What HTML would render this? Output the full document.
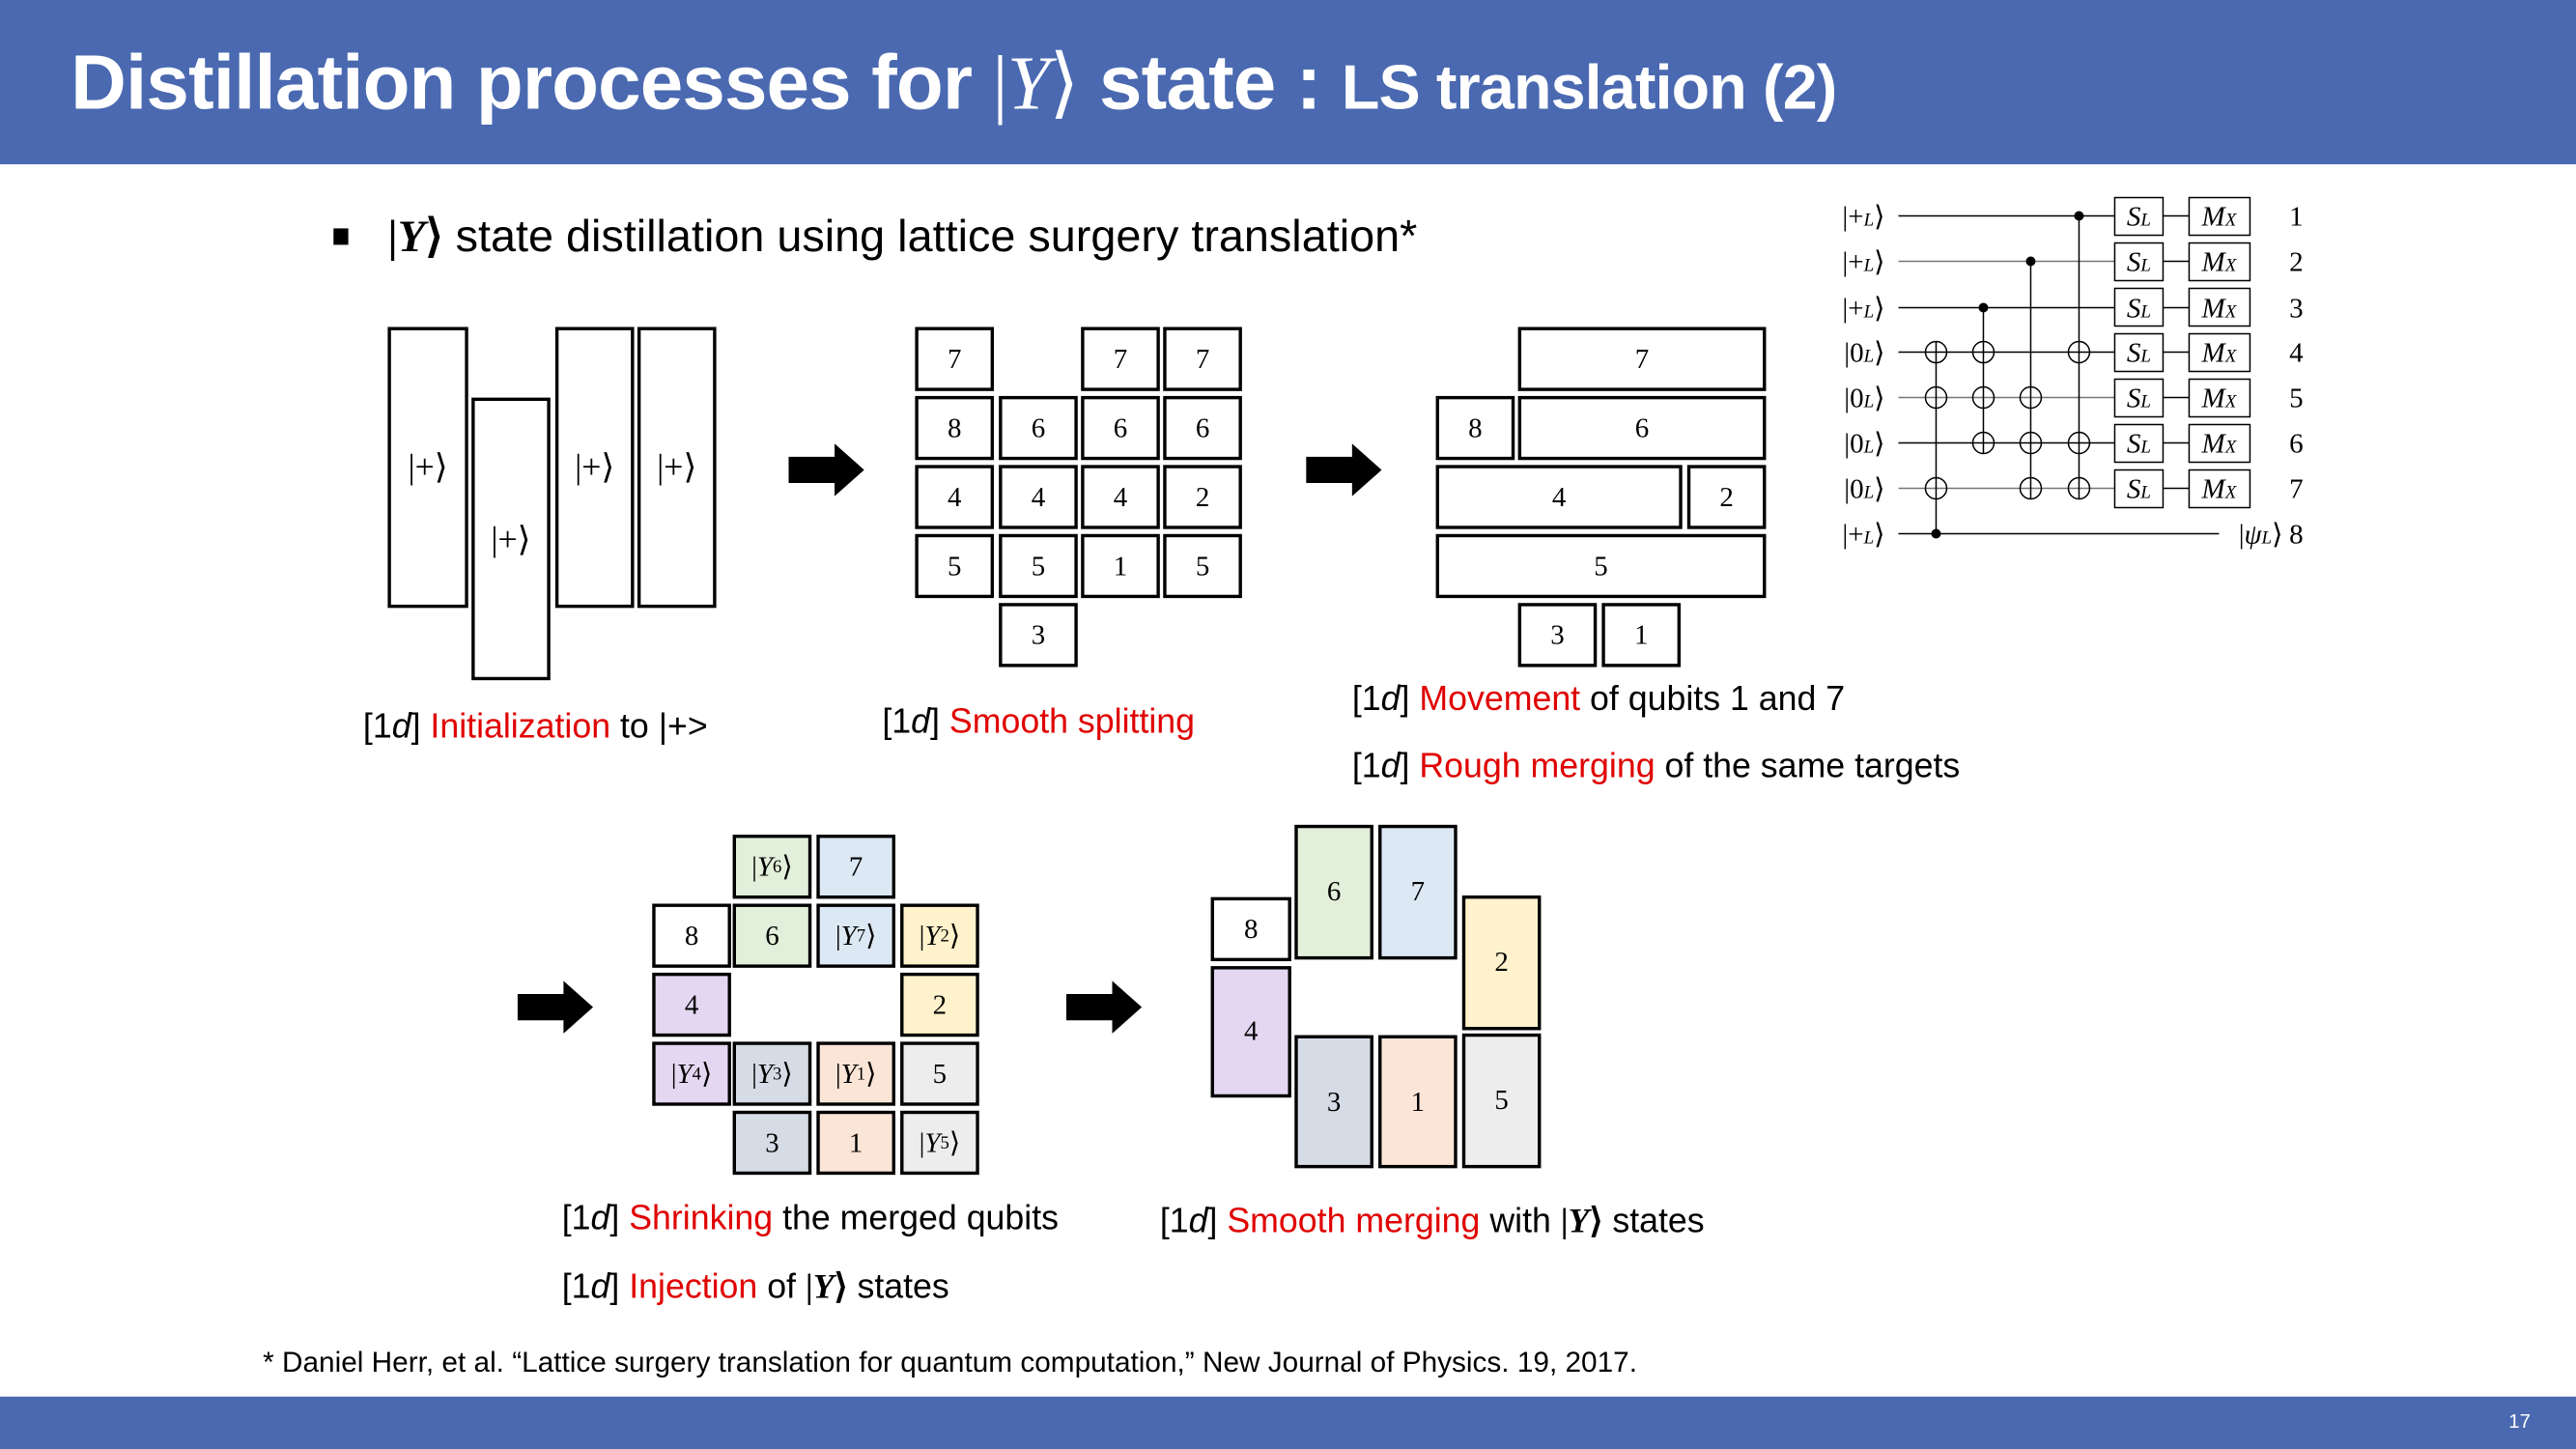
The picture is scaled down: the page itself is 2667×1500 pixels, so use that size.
<!DOCTYPE html>
<html><head><meta charset="utf-8"><style>
html,body{margin:0;padding:0;background:#fff;overflow:hidden}
#wrap{position:absolute;left:0;top:0;width:1568px;height:882px;transform:scale(1.70089);transform-origin:0 0;font-family:"Liberation Sans",sans-serif;color:#000}
.a{position:absolute}
.b{position:absolute;box-sizing:border-box;border:2px solid #000;display:flex;align-items:center;justify-content:center;font-family:"Liberation Serif",serif;font-size:17px;background:#fff}
.t{position:absolute;white-space:nowrap;font-size:21px;line-height:24px}
.r{color:#e00000}
.m{font-family:"Liberation Serif",serif}
.arrow{position:absolute;width:46px;height:32px}
.g{background:#e2efda}.bl{background:#dde8f5}.y{background:#fff2cc}.p{background:#e4d7f2}.gb{background:#d6dce5}.pe{background:#fbe5d6}.gr{background:#ededed}
</style></head><body><div id="wrap">
<div class="a" style="left:0;top:0;width:1568px;height:100px;background:#4a69b0"></div>
<div class="a" style="left:0;top:850px;width:1568px;height:32px;background:#4a69b0"></div>
<div class="a" style="left:1527px;top:858px;color:#fff;font-size:12px">17</div>
<div class="t" style="left:43px;top:22px;font-size:47px;line-height:56px;font-weight:bold;color:#fff;letter-spacing:-0.5px">Distillation processes for <span class="m" style="font-weight:normal">|<i>Y</i>⟩</span> state : <span style="font-size:38px">LS translation (2)</span></div>

<div class="a" style="left:203px;top:139px;width:9px;height:10px;background:#000"></div>
<div class="t" style="left:236px;top:128px;font-size:27.5px;line-height:32px"><span class="m"><b>|<i>Y</i>⟩</b></span> state distillation using lattice surgery translation*</div>

<!-- diagram 1 -->
<div class="b" style="left:236px;top:199px;width:49px;height:171px;font-size:21px">|+⟩</div>
<div class="b" style="left:287px;top:242px;width:48px;height:172px;font-size:21px">|+⟩</div>
<div class="b" style="left:338px;top:199px;width:48px;height:171px;font-size:21px">|+⟩</div>
<div class="b" style="left:388px;top:199px;width:48px;height:171px;font-size:21px">|+⟩</div>

<svg class="arrow" style="left:480px;top:270px" viewBox="0 0 46 32"><polygon points="0,8 28,8 28,0 46,16 28,32 28,24 0,24" fill="#000"/></svg>
<svg class="arrow" style="left:795px;top:270px" viewBox="0 0 46 32"><polygon points="0,8 28,8 28,0 46,16 28,32 28,24 0,24" fill="#000"/></svg>
<svg class="arrow" style="left:315px;top:597px" viewBox="0 0 46 32"><polygon points="0,8 28,8 28,0 46,16 28,32 28,24 0,24" fill="#000"/></svg>
<svg class="arrow" style="left:649px;top:597px" viewBox="0 0 46 32"><polygon points="0,8 28,8 28,0 46,16 28,32 28,24 0,24" fill="#000"/></svg>

<!-- diagram 2 -->
<div class="b" style="left:557px;top:199px;width:48px;height:39px">7</div>
<div class="b" style="left:658px;top:199px;width:48px;height:39px">7</div>
<div class="b" style="left:708px;top:199px;width:48px;height:39px">7</div>
<div class="b" style="left:557px;top:241px;width:48px;height:39px">8</div>
<div class="b" style="left:608px;top:241px;width:48px;height:39px">6</div>
<div class="b" style="left:658px;top:241px;width:48px;height:39px">6</div>
<div class="b" style="left:708px;top:241px;width:48px;height:39px">6</div>
<div class="b" style="left:557px;top:283px;width:48px;height:39px">4</div>
<div class="b" style="left:608px;top:283px;width:48px;height:39px">4</div>
<div class="b" style="left:658px;top:283px;width:48px;height:39px">4</div>
<div class="b" style="left:708px;top:283px;width:48px;height:39px">2</div>
<div class="b" style="left:557px;top:325px;width:48px;height:39px">5</div>
<div class="b" style="left:608px;top:325px;width:48px;height:39px">5</div>
<div class="b" style="left:658px;top:325px;width:48px;height:39px">1</div>
<div class="b" style="left:708px;top:325px;width:48px;height:39px">5</div>
<div class="b" style="left:608px;top:367px;width:48px;height:39px">3</div>

<!-- diagram 3 -->
<div class="b" style="left:924px;top:199px;width:151px;height:39px">7</div>
<div class="b" style="left:874px;top:241px;width:48px;height:39px">8</div>
<div class="b" style="left:924px;top:241px;width:151px;height:39px">6</div>
<div class="b" style="left:874px;top:283px;width:150px;height:39px">4</div>
<div class="b" style="left:1027px;top:283px;width:48px;height:39px">2</div>
<div class="b" style="left:874px;top:325px;width:201px;height:39px">5</div>
<div class="b" style="left:924px;top:367px;width:48px;height:39px">3</div>
<div class="b" style="left:975px;top:367px;width:48px;height:39px">1</div>

<!-- diagram 4 -->
<div class="b g" style="left:446px;top:508px;width:48px;height:39px">|<i>Y</i><sub style="font-size:11px">6</sub>⟩</div>
<div class="b bl" style="left:497px;top:508px;width:48px;height:39px">7</div>
<div class="b" style="left:397px;top:550px;width:48px;height:39px">8</div>
<div class="b g" style="left:446px;top:550px;width:48px;height:39px">6</div>
<div class="b bl" style="left:497px;top:550px;width:48px;height:39px">|<i>Y</i><sub style="font-size:11px">7</sub>⟩</div>
<div class="b y" style="left:548px;top:550px;width:48px;height:39px">|<i>Y</i><sub style="font-size:11px">2</sub>⟩</div>
<div class="b p" style="left:397px;top:592px;width:48px;height:39px">4</div>
<div class="b y" style="left:548px;top:592px;width:48px;height:39px">2</div>
<div class="b p" style="left:397px;top:634px;width:48px;height:39px">|<i>Y</i><sub style="font-size:11px">4</sub>⟩</div>
<div class="b gb" style="left:446px;top:634px;width:48px;height:39px">|<i>Y</i><sub style="font-size:11px">3</sub>⟩</div>
<div class="b pe" style="left:497px;top:634px;width:48px;height:39px">|<i>Y</i><sub style="font-size:11px">1</sub>⟩</div>
<div class="b gr" style="left:548px;top:634px;width:48px;height:39px">5</div>
<div class="b gb" style="left:446px;top:676px;width:48px;height:39px">3</div>
<div class="b pe" style="left:497px;top:676px;width:48px;height:39px">1</div>
<div class="b gr" style="left:548px;top:676px;width:48px;height:39px">|<i>Y</i><sub style="font-size:11px">5</sub>⟩</div>

<!-- diagram 5 -->
<div class="b" style="left:737px;top:546px;width:49px;height:39px">8</div>
<div class="b g" style="left:788px;top:502px;width:48px;height:82px">6</div>
<div class="b bl" style="left:839px;top:502px;width:48px;height:82px">7</div>
<div class="b y" style="left:890px;top:545px;width:48px;height:82px">2</div>
<div class="b p" style="left:737px;top:588px;width:49px;height:80px">4</div>
<div class="b gb" style="left:788px;top:630px;width:48px;height:81px">3</div>
<div class="b pe" style="left:839px;top:630px;width:48px;height:81px">1</div>
<div class="b gr" style="left:890px;top:629px;width:48px;height:82px">5</div>

<!-- captions -->
<div class="t" style="left:221px;top:431px">[1<i>d</i>] <span class="r">Initialization</span> to |+&gt;</div>
<div class="t" style="left:537px;top:428px">[1<i>d</i>] <span class="r">Smooth splitting</span></div>
<div class="t" style="left:823px;top:414px">[1<i>d</i>] <span class="r">Movement</span> of qubits 1 and 7</div>
<div class="t" style="left:823px;top:455px">[1<i>d</i>] <span class="r">Rough merging</span> of the same targets</div>
<div class="t" style="left:342px;top:730px">[1<i>d</i>] <span class="r">Shrinking</span> the merged qubits</div>
<div class="t" style="left:342px;top:771px">[1<i>d</i>] <span class="r">Injection</span> of <span class="m"><b>|<i>Y</i>⟩</b></span> states</div>
<div class="t" style="left:706px;top:731px">[1<i>d</i>] <span class="r">Smooth merging</span> with <span class="m"><b>|<i>Y</i>⟩</b></span> states</div>
<div class="t" style="left:160px;top:819px;font-size:17.5px;line-height:20px">* Daniel Herr, et al. “Lattice surgery translation for quantum computation,” New Journal of Physics. 19, 2017.</div>

<!-- circuit -->
<svg class="a" style="left:1105.3px;top:111.7px" width="305.7" height="229.3" viewBox="0 0 520 390" font-family="Liberation Serif, serif">
<g stroke="#000" stroke-width="1.5" fill="none">
<line x1="86" y1="33" x2="310" y2="33"/><line x1="86" y1="80" x2="310" y2="80" stroke="#777"/><line x1="86" y1="128" x2="310" y2="128"/>
<line x1="86" y1="174" x2="310" y2="174"/><line x1="86" y1="221" x2="310" y2="221" stroke="#777"/><line x1="86" y1="268" x2="310" y2="268"/>
<line x1="86" y1="315" x2="310" y2="315" stroke="#777"/><line x1="86" y1="362" x2="418" y2="362"/>
<g><line x1="360" y1="33" x2="387" y2="33"/><line x1="360" y1="80" x2="387" y2="80"/><line x1="360" y1="128" x2="387" y2="128"/><line x1="360" y1="174" x2="387" y2="174"/><line x1="360" y1="221" x2="387" y2="221"/><line x1="360" y1="268" x2="387" y2="268"/><line x1="360" y1="315" x2="387" y2="315"/></g>
<line x1="125" y1="163" x2="125" y2="362"/><line x1="174" y1="128" x2="174" y2="279"/><line x1="223" y1="80" x2="223" y2="326"/><line x1="273" y1="33" x2="273" y2="326"/>
<g>
<circle cx="125" cy="174" r="11"/><circle cx="125" cy="221" r="11"/><circle cx="125" cy="315" r="11"/>
<circle cx="174" cy="174" r="11"/><circle cx="174" cy="221" r="11"/><circle cx="174" cy="268" r="11"/>
<circle cx="223" cy="221" r="11"/><circle cx="223" cy="268" r="11"/><circle cx="223" cy="315" r="11"/>
<circle cx="273" cy="174" r="11"/><circle cx="273" cy="268" r="11"/><circle cx="273" cy="315" r="11"/>
</g>
<g fill="#fff">
<rect x="310" y="14" width="50" height="39"/><rect x="310" y="61" width="50" height="39"/><rect x="310" y="108" width="50" height="39"/><rect x="310" y="155" width="50" height="39"/><rect x="310" y="202" width="50" height="39"/><rect x="310" y="249" width="50" height="39"/><rect x="310" y="296" width="50" height="39"/>
<rect x="387" y="14" width="63" height="39"/><rect x="387" y="61" width="63" height="39"/><rect x="387" y="108" width="63" height="39"/><rect x="387" y="155" width="63" height="39"/><rect x="387" y="202" width="63" height="39"/><rect x="387" y="249" width="63" height="39"/><rect x="387" y="296" width="63" height="39"/>
</g>
</g>
<g fill="#000"><circle cx="125" cy="362" r="5"/><circle cx="174" cy="128" r="5"/><circle cx="223" cy="80" r="5"/><circle cx="273" cy="33" r="5"/></g>
<g font-size="29" text-anchor="middle" font-style="italic">
<text x="335" y="43">S<tspan font-size="19">L</tspan></text><text x="335" y="90">S<tspan font-size="19">L</tspan></text><text x="335" y="138">S<tspan font-size="19">L</tspan></text><text x="335" y="184">S<tspan font-size="19">L</tspan></text><text x="335" y="231">S<tspan font-size="19">L</tspan></text><text x="335" y="278">S<tspan font-size="19">L</tspan></text><text x="335" y="325">S<tspan font-size="19">L</tspan></text>
<text x="418" y="43">M<tspan font-size="19">X</tspan></text><text x="418" y="90">M<tspan font-size="19">X</tspan></text><text x="418" y="138">M<tspan font-size="19">X</tspan></text><text x="418" y="184">M<tspan font-size="19">X</tspan></text><text x="418" y="231">M<tspan font-size="19">X</tspan></text><text x="418" y="278">M<tspan font-size="19">X</tspan></text><text x="418" y="325">M<tspan font-size="19">X</tspan></text>
</g>
<g font-size="29" text-anchor="end">
<text x="72" y="43">|+<tspan font-size="19" font-style="italic">L</tspan>⟩</text><text x="72" y="90">|+<tspan font-size="19" font-style="italic">L</tspan>⟩</text><text x="72" y="138">|+<tspan font-size="19" font-style="italic">L</tspan>⟩</text>
<text x="72" y="184">|0<tspan font-size="19" font-style="italic">L</tspan>⟩</text><text x="72" y="231">|0<tspan font-size="19" font-style="italic">L</tspan>⟩</text><text x="72" y="278">|0<tspan font-size="19" font-style="italic">L</tspan>⟩</text><text x="72" y="325">|0<tspan font-size="19" font-style="italic">L</tspan>⟩</text>
<text x="72" y="372">|+<tspan font-size="19" font-style="italic">L</tspan>⟩</text>
<text x="484" y="372">|<tspan font-style="italic">ψ</tspan><tspan font-size="19" font-style="italic">L</tspan>⟩</text>
</g>
<g font-size="29" text-anchor="middle">
<text x="498" y="43">1</text><text x="498" y="90">2</text><text x="498" y="138">3</text><text x="498" y="184">4</text><text x="498" y="231">5</text><text x="498" y="278">6</text><text x="498" y="325">7</text><text x="498" y="372">8</text>
</g>
</svg>
</div></body></html>
